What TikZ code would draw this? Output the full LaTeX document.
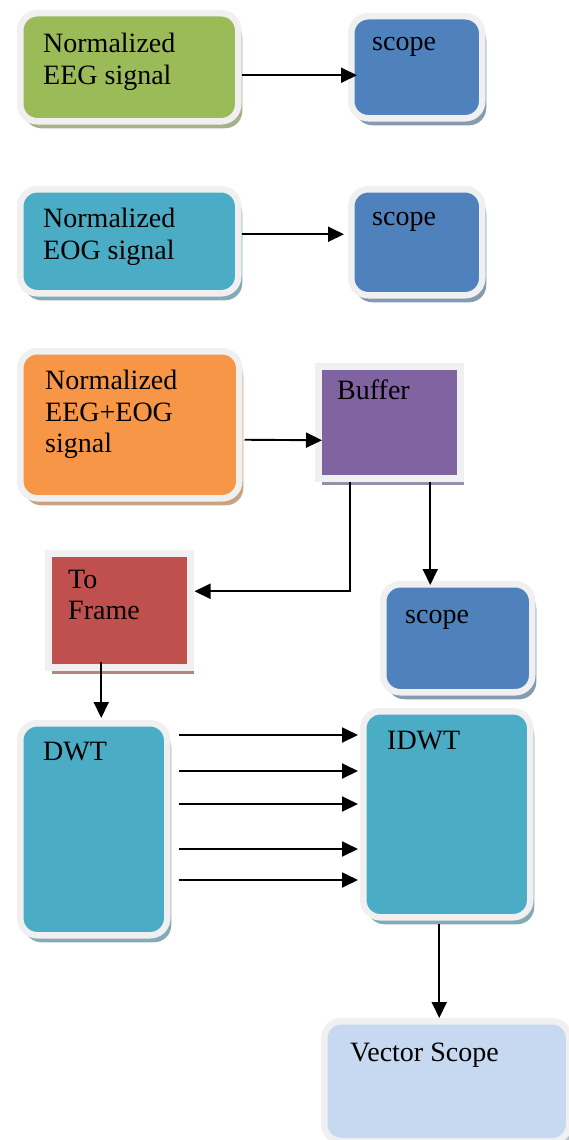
\documentclass[tikz,border=0pt]{standalone}
\usepackage{fontspec}
\setmainfont{Liberation Serif}
\usetikzlibrary{shadows,calc,arrows.meta}
\definecolor{eeggreen}{HTML}{9BBB59}
\definecolor{eogteal}{HTML}{4BACC6}
\definecolor{scopeblue}{HTML}{4F81BD}
\definecolor{mixorange}{HTML}{F79646}
\definecolor{bufpurple}{HTML}{8064A2}
\definecolor{framered}{HTML}{C0504D}
\definecolor{vecblue}{HTML}{C6D9F1}
\begin{document}
\begin{tikzpicture}[x=1pt,y=-1pt]
  \tikzset{
    blk/.style={anchor=north west, inner sep=0pt, fill=#1, draw=black!6,
      line width=6.5pt, rounded corners=17pt,
      drop shadow={shadow xshift=4pt, shadow yshift=-7pt,
        fill=#1!50!gray!80!white, opacity=1}},
    sqblk/.style={blk=#1, sharp corners},
    txt/.style={anchor=north west, inner sep=0pt, align=left,
      font=\fontsize{28}{31.5}\selectfont},
    arr/.style={line width=1.9pt, -{Triangle[length=16pt,width=15pt]}}
  }
  \useasboundingbox (0,0) rectangle (569,1140);

  % inputs and their scopes
  \node[blk=eeggreen, minimum width=218pt, minimum height=108pt] (eeg) at (17,10) {};
  \node[txt] (eegtxt) at (43,33) {Normalized\\EEG signal};
  \node[blk=scopeblue, minimum width=131pt, minimum height=102pt] (scope1) at (348,13) {};
  \node[txt] (s1txt) at (372,37) {scope};

  \node[blk=eogteal, minimum width=218pt, minimum height=104pt] (eog) at (17,186) {};
  \node[txt] (eogtxt) at (43,208) {Normalized\\EOG signal};
  \node[blk=scopeblue, minimum width=131pt, minimum height=106pt] (scope2) at (348,186) {};
  \node[txt] (s2txt) at (372,212) {scope};

  \node[blk=mixorange, minimum width=219pt, minimum height=147pt] (mix) at (17,348) {};
  \node[txt] (mixtxt) at (45,370) {Normalized\\EEG+EOG\\signal};
  \node[sqblk=bufpurple, minimum width=142pt, minimum height=112pt] (buffer) at (315,363) {};
  \node[txt] (buftxt) at (337,380) {Buffer};

  \node[sqblk=framered, minimum width=142pt, minimum height=114pt] (toframe) at (45,550) {};
  \node[txt] (frtxt) at (68,569.5) {To\\Frame};
  \node[blk=scopeblue, minimum width=149pt, minimum height=108pt] (scope3) at (380,581) {};
  \node[txt] (s3txt) at (405,610) {scope};

  % wavelet stage
  \node[blk=eogteal, minimum width=147pt, minimum height=212pt] (dwt) at (17,720) {};
  \node[txt] (dwttxt) at (43,741.5) {DWT};
  \node[blk=eogteal, minimum width=167pt, minimum height=206pt] (idwt) at (360,708) {};
  \node[txt] (idwttxt) at (387,730.5) {IDWT};

  \node[blk=vecblue, minimum width=245pt, minimum height=120pt] (vec) at (321,1018) {};
  \node[txt] (vectxt) at (350,1042.5) {Vector Scope};

  % connectors
  \draw[arr] ($(eeg.east)+(0,8)$) -- ($(scope1.west)+(9,8)$);
  \draw[arr] ($(eog.east)+(0,-7)$) -- ($(scope2.west)+(-4,-8)$);
  \draw[arr] ($(mix.east)+(2,15)$) -- ($(buffer.west)+(7,18)$);
  \draw[arr] ($(buffer.south)+(-39,0)$) |- ($(toframe.east)+(1,-19)$);
  \draw[arr] ($(buffer.south)+(41,0)$) -- ($(scope3.north)+(-27.5,4)$);
  \draw[arr] ($(toframe.south)+(-18,-9)$) -- ($(dwt.north)+(7.5,-2)$);
  \foreach \y in {735,771,804,849,880}
    \draw[arr] ($(dwt.east |- 0,\y)+(8,0)$) -- ($(idwt.west |- 0,\y)+(-2,0)$);
  \draw[arr] ($(idwt.south)+(-7.5,3)$) -- ($(vec.north)+(-7.5,0)$);
\end{tikzpicture}
\end{document}
